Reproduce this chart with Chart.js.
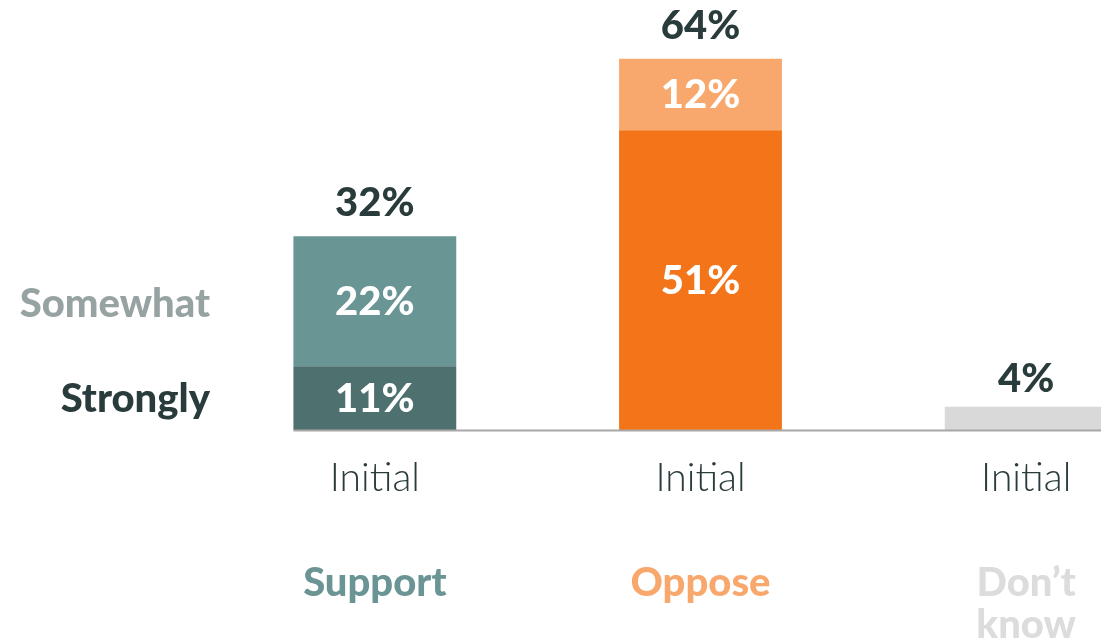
<!DOCTYPE html>
<html>
<head>
<meta charset="utf-8">
<script src="https://cdn.jsdelivr.net/npm/chart.js@4/dist/chart.umd.min.js"></script>
<style>
  html, body { margin: 0; padding: 0; background: #ffffff; overflow: hidden; width: 1101px; height: 641px; }
  #wrap { position: absolute; left: 0; top: 0; width: 1189px; height: 641px; }
</style>
</head>
<body>
<div id="wrap"><canvas id="c" width="1189" height="641"></canvas></div>
<script>
// ---- data ----
const barLabels = ['Initial', 'Initial', 'Initial'];
const groupLabels = ['Support', 'Oppose', ['Don\u2019t', 'know']];
const stronglyValues = [11.0, 51.7, null];
const somewhatValues = [22.4, 12.3, null];
const dontKnowValues = [null, null, 4.0];
const stronglyText = ['11%', '51%', null];
const somewhatText = ['22%', '12%', null];
const totalText = ['32%', '64%', '4%'];
const seriesNames = ['Strongly', 'Somewhat', 'Don\u2019t know'];

// ---- styles ----
const DARK = '#2a3b3c';
const stronglyColors = ['#4e706f', '#f4741a', '#d9d9d9'];
const somewhatColors = ['#699695', '#f9a86d', '#d9d9d9'];
const groupColors = ['#6a9594', '#f9a86d', '#dcdcdc'];
const BOLD = '900 40px Lato, "Open Sans", sans-serif';

const labelPlugin = {
  id: 'customLabels',
  afterDatasetsDraw(chart) {
    const ctx = chart.ctx;
    const y = chart.scales.y;
    const m0 = chart.getDatasetMeta(0), m1 = chart.getDatasetMeta(1);
    ctx.save();
    // baseline
    const b0 = m0.data[0];
    const baseY = y.getPixelForValue(0);
    ctx.strokeStyle = '#a8a8a8';
    ctx.lineWidth = 2;
    ctx.beginPath();
    ctx.moveTo(b0.x - b0.width / 2, baseY + 0.5);
    ctx.lineTo(chart.chartArea.right + 10, baseY + 0.5);
    ctx.stroke();

    ctx.font = BOLD;
    ctx.textAlign = 'center';
    ctx.textBaseline = 'middle';
    // inner labels
    ctx.fillStyle = '#ffffff';
    for (let i = 0; i < 3; i++) {
      if (stronglyText[i]) {
        const e = m0.data[i];
        ctx.fillText(stronglyText[i], e.x, (e.y + e.base) / 2 + 1);
      }
      if (somewhatText[i]) {
        const e = m1.data[i];
        ctx.fillText(somewhatText[i], e.x, (e.y + e.base) / 2 + 1);
      }
    }
    // totals
    ctx.fillStyle = DARK;
    for (let i = 0; i < 3; i++) {
      const sum = (stronglyValues[i] || 0) + (somewhatValues[i] || 0) + (dontKnowValues[i] || 0);
      const top = y.getPixelForValue(sum);
      const x = m0.data[i].x;
      ctx.fillText(totalText[i], x, top - (sum < 10 ? 28 : 33));
    }
    // series labels on the left
    ctx.textAlign = 'right';
    const s0 = m0.data[0], s1 = m1.data[0];
    const lx = chart.chartArea.left - 2;
    ctx.fillStyle = DARK;
    ctx.fillText(seriesNames[0], lx, (s0.y + s0.base) / 2 + 1);
    ctx.fillStyle = '#97a3a2';
    ctx.fillText(seriesNames[1], lx, (s1.y + s1.base) / 2 + 3);
    ctx.restore();
  }
};

new Chart(document.getElementById('c'), {
  type: 'bar',
  data: {
    labels: barLabels,
    datasets: [
      { label: seriesNames[0], data: stronglyValues, backgroundColor: stronglyColors },
      { label: seriesNames[1], data: somewhatValues, backgroundColor: somewhatColors },
      { label: seriesNames[2], data: dontKnowValues, backgroundColor: stronglyColors }
    ]
  },
  options: {
    responsive: false,
    animation: false,
    devicePixelRatio: 1,
    layout: { padding: { left: 212, right: 0, top: 24, bottom: 0 } },
    datasets: { bar: { categoryPercentage: 1.0, barPercentage: 0.5, borderWidth: 0, grouped: false } },
    plugins: { legend: { display: false }, tooltip: { enabled: false } },
    scales: {
      y: { display: false, stacked: true, min: 0, max: 70 },
      x: {
        stacked: true,
        offset: true,
        weight: 0,
        grid: { display: false, drawTicks: false },
        border: { display: false },
        ticks: { color: DARK, padding: 25, font: { family: 'Lato, "Open Sans", sans-serif', size: 39, weight: 300, lineHeight: 1.2 }, maxRotation: 0, autoSkip: false },
        afterFit(s) { s.height = 80; }
      },
      x2: {
        type: 'category',
        position: 'bottom',
        labels: groupLabels,
        offset: true,
        weight: 1,
        grid: { display: false, drawTicks: false },
        border: { display: false },
        ticks: { color: (c) => groupColors[c.index], padding: 52, font: { family: 'Lato, "Open Sans", sans-serif', size: 40, weight: 900, lineHeight: '42px' }, maxRotation: 0, autoSkip: false },
        afterFit(s) { s.height = 131; }
      }
    }
  },
  plugins: [labelPlugin]
});
</script>
</body>
</html>
